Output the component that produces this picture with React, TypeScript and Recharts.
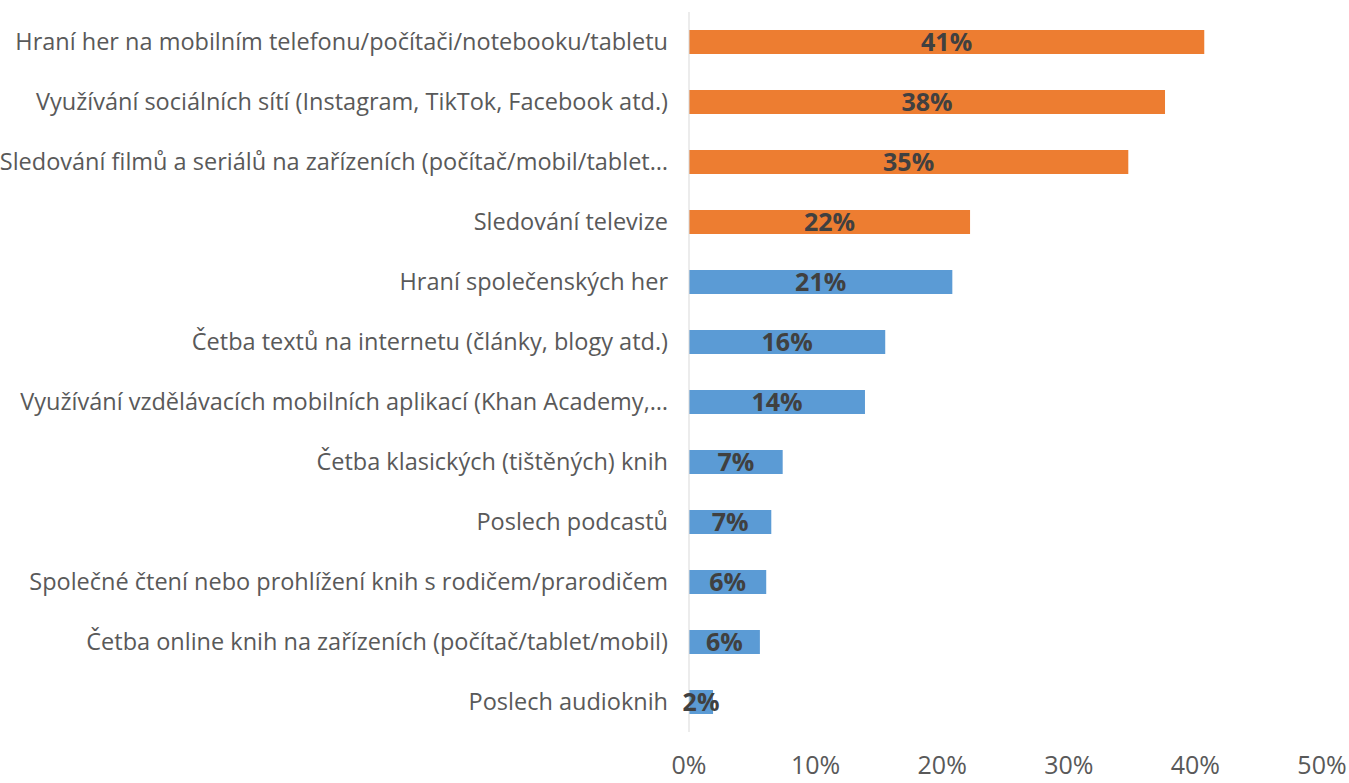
import { BarChart, Bar, XAxis, YAxis, Cell, LabelList } from "recharts";

const categories = [
  "Hraní her na mobilním telefonu/počítači/notebooku/tabletu",
  "Využívání sociálních sítí (Instagram, TikTok, Facebook atd.)",
  "Sledování filmů a seriálů na zařízeních (počítač/mobil/tablet…",
  "Sledování televize",
  "Hraní společenských her",
  "Četba textů na internetu (články, blogy atd.)",
  "Využívání vzdělávacích mobilních aplikací (Khan Academy,…",
  "Četba klasických (tištěných) knih",
  "Poslech podcastů",
  "Společné čtení nebo prohlížení knih s rodičem/prarodičem",
  "Četba online knih na zařízeních (počítač/tablet/mobil)",
  "Poslech audioknih",
];

const values = [40.7, 37.6, 34.7, 22.2, 20.8, 15.5, 13.9, 7.4, 6.5, 6.1, 5.6, 1.9];
const screenGroup = [true, true, true, true, false, false, false, false, false, false, false, false];
const xTicks = [0, 10, 20, 30, 40, 50];

const ORANGE = "#ED7D31";
const BLUE = "#5B9BD5";
const FONT = "'Open Sans', Lato, sans-serif";

const data = categories.map((name, i) => ({ name, value: values[i] }));

export default function App() {
  return (
    <div style={{ position: "absolute", left: 0, top: 0, background: "#fff" }}>
      <BarChart
        width={1349}
        height={783}
        data={data}
        layout="vertical"
        margin={{ top: 12, right: 27, bottom: 0, left: 0 }}
      >
        <XAxis
          type="number"
          domain={[0, 50]}
          ticks={xTicks}
          tickFormatter={(v) => `${v}%`}
          axisLine={false}
          tickLine={false}
          tickSize={0}
          tickMargin={24}
          height={51}
          interval={0}
          tick={{ fill: "#595959", fontSize: 25, fontFamily: FONT }}
        />
        <YAxis
          type="category"
          dataKey="name"
          width={689}
          axisLine={{ stroke: "#d9d9d9" }}
          tickLine={false}
          tickSize={0}
          tickMargin={21}
          interval={0}
          tick={{ fill: "#595959", fontSize: 23.5, fontFamily: FONT }}
        />
        <Bar dataKey="value" barSize={24} isAnimationActive={false}>
          {data.map((_d, i) => (
            <Cell key={`cell-${i}`} fill={screenGroup[i] ? ORANGE : BLUE} />
          ))}
          <LabelList
            dataKey="value"
            position="center"
            formatter={(v: any) => `${Math.round(Number(v))}%`}
            style={{ fill: "#404040", fontSize: 25, fontWeight: 700, fontFamily: FONT }}
          />
        </Bar>
      </BarChart>
    </div>
  );
}
